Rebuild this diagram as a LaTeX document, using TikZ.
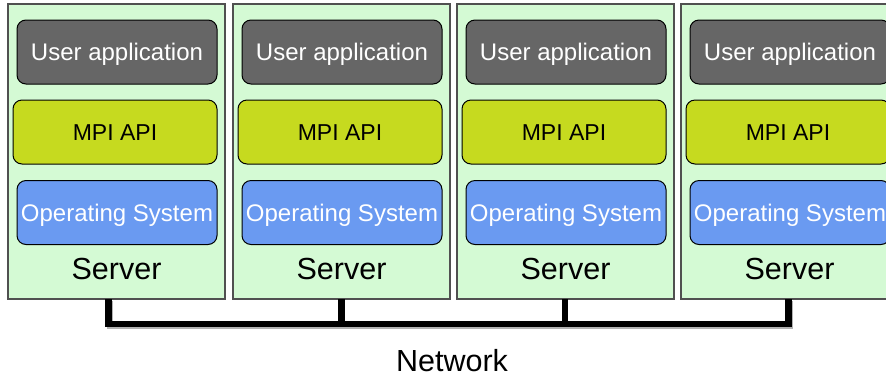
\documentclass[tikz,border=0pt]{standalone}
\usepackage{fontspec}
\setmainfont{Liberation Sans}
\definecolor{srvfill}{HTML}{D4FAD4}
\definecolor{srvline}{HTML}{505050}
\definecolor{appfill}{HTML}{666666}
\definecolor{mpifill}{HTML}{C6DA1F}
\definecolor{osfill}{HTML}{6A9AF1}
\tikzset{
  server/.style={draw=srvline, line width=1.5pt, fill=srvfill, rectangle,
    minimum width=217pt, minimum height=295pt, inner sep=0pt},
  layer/.style={draw=black, line width=1pt, rounded corners=9pt, rectangle,
    minimum height=64pt, inner sep=0pt, text height=17.2pt, text depth=0pt,
    font=\fontsize{24}{28}\selectfont},
  appbox/.style={layer, fill=appfill, text=white, minimum width=200pt},
  mpibox/.style={layer, fill=mpifill, text=black, minimum width=204pt,
    font=\fontsize{23}{27}\selectfont, text height=16.5pt},
  osbox/.style={layer, fill=osfill, text=white, minimum width=200pt},
  biglabel/.style={font=\fontsize{30.5}{34}\selectfont, anchor=base, inner sep=0pt},
  bus/.style={line width=6.5pt, draw=black},
  busshadow/.style={line width=6.5pt, draw=black!30},
}
\begin{document}
\begin{tikzpicture}[x=1pt,y=-1pt]
\clip (0,0) rectangle (886,376);
\fill[white] (0,0) rectangle (886,376);
\foreach \i/\l in {1/8,2/233,3/457,4/681}{
  \node[server] (s\i) at (\l+108.5,151.5) {};
  \node[appbox] (u\i) at (\l+109,52) {User application};
  \node[mpibox] (m\i) at (\l+107,132) {MPI API};
  \node[osbox] (o\i) at (\l+109,212.5) {Operating System};
  \node[biglabel] (t\i) at (\l+108.5,279) {Server};
}
\coordinate (b1) at (108.5,299);
\coordinate (b2) at (341.5,299);
\coordinate (b3) at (565,299);
\coordinate (b4) at (788.5,299);
\coordinate (h1) at (108.5,324);
\coordinate (h4) at (788.5,324);
\draw[busshadow] ([shift={(1.5,1.5)}]b1) -- ([shift={(1.5,1.5)}]h1) -- ([shift={(1.5,1.5)}]h4) -- ([shift={(1.5,1.5)}]b4);
\draw[bus, line join=miter] (b1) -- (h1) -- (h4) -- (b4);
\draw[bus] (b2) -- (b2 |- h1);
\draw[bus] (b3) -- (b3 |- h1);
\node[biglabel] (net) at (452,371) {Network};
\end{tikzpicture}
\end{document}
